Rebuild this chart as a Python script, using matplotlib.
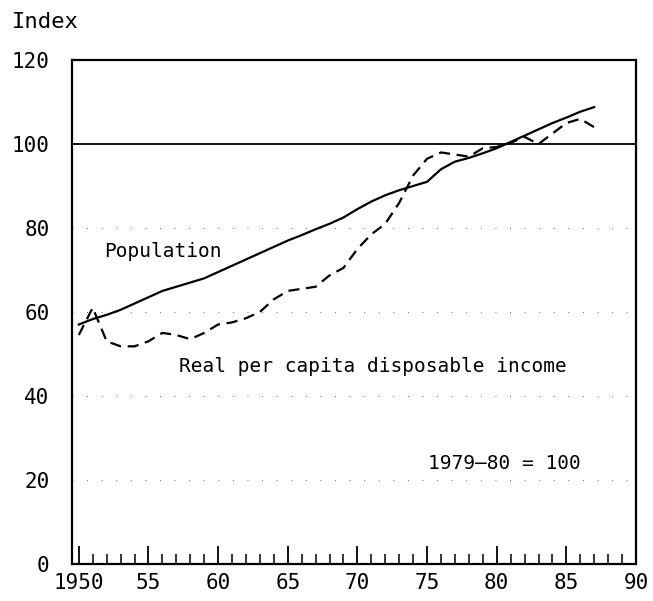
#!/usr/bin/env python3

import matplotlib
matplotlib.use("Agg")
import matplotlib.pyplot as plt
import numpy as np
from matplotlib.ticker import MultipleLocator

plt.rcParams['font.family'] = ['DejaVu Sans Mono', 'DejaVu Sans']

years = list(range(1950, 1988))
population = [57.0, 58.3, 59.3, 60.5, 62.0, 63.5, 65.0, 66.0, 67.0, 68.0,
              69.5, 71.0, 72.5, 74.0, 75.5, 77.0, 78.3, 79.7, 81.0, 82.5,
              84.5, 86.3, 87.8, 89.0, 90.0, 91.0, 94.0, 95.8, 96.7, 97.8,
              99.0, 100.5, 102.0, 103.5, 105.0, 106.3, 107.7, 108.8]
income = [54.5, 61.0, 53.0, 51.8, 51.8, 53.0, 55.0, 54.5, 53.5, 55.0,
          57.0, 57.5, 58.5, 60.0, 63.0, 65.0, 65.5, 66.0, 68.7, 70.5,
          75.0, 78.5, 81.0, 86.0, 92.5, 96.5, 98.0, 97.5, 97.0, 99.0,
          99.3, 100.3, 101.7, 100.0, 102.5, 105.0, 106.0, 104.0]

xtick_pos = [1950, 1955, 1960, 1965, 1970, 1975, 1980, 1985, 1990]
xtick_lbl = ['1950', '55', '60', '65', '70', '75', '80', '85', '90']
ytick_pos = [0, 20, 40, 60, 80, 100, 120]

fig = plt.figure(figsize=(6.53, 6.01), dpi=100)
ax = fig.add_axes([0.110, 0.062, 0.864, 0.838])

# sparse dotted reference lines, like the scanned original
for v in [20, 40, 60, 80]:
    ax.axhline(v, color='black', linewidth=0.7, linestyle=(0, (1, 14)), alpha=0.6)
ax.axhline(100, color='black', linewidth=1.3)

ax.plot(years, population, color='black', linewidth=1.6)
ax.plot(years, income, color='black', linewidth=1.6, linestyle=(0, (5, 3)))

ax.text(1951.8, 74.5, 'Population', fontsize=14, va='center', ha='left')
ax.text(1957.2, 47.0, 'Real per capita disposable income', fontsize=14, va='center', ha='left')
ax.text(1986.0, 24.0, '1979\u201380 = 100', fontsize=14, va='center', ha='right')
fig.text(0.018, 0.963, 'Index', fontsize=16, va='center', ha='left')

ax.set_xlim(1949.5, 1990)
ax.set_ylim(0, 120)
ax.set_xticks(xtick_pos)
ax.set_xticklabels(xtick_lbl, fontsize=15)
ax.xaxis.set_minor_locator(MultipleLocator(1))
ax.tick_params(axis='x', which='major', direction='in', length=13, width=1.3, pad=7)
ax.tick_params(axis='x', which='minor', direction='in', length=7, width=1.1)
ax.set_yticks(ytick_pos)
ax.set_yticklabels([str(v) for v in ytick_pos], fontsize=15)
ax.tick_params(axis='y', length=0, pad=16)

for s in ax.spines.values():
    s.set_linewidth(1.6)

fig.savefig('out.png', dpi=100)
